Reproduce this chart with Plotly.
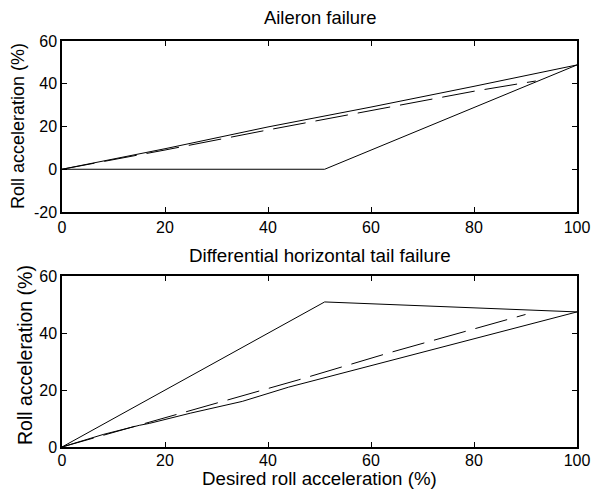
import plotly.graph_objects as go

# Top panel: Aileron failure
a_upper_x = [0, 20, 40, 60, 80, 100]
a_upper_y = [0, 9.6, 19.8, 29.1, 38.8, 48.8]
a_dash_x = [0, 20, 40, 60, 80, 92]
a_dash_y = [0, 9.0, 18.4, 27.6, 36.5, 41.3]
a_lower_x = [0, 28, 51, 100]
a_lower_y = [0, 0, 0, 48.8]

# Bottom panel: Differential horizontal tail failure
d_upper_x = [0, 51, 100]
d_upper_y = [0, 50.9, 47.4]
d_dash_x = [0, 17, 31, 40, 46, 64, 81, 90]
d_dash_y = [0, 8.8, 16.1, 20.6, 23.6, 33.3, 42.1, 46.5]
d_lower_x = [0, 8, 15, 17, 25, 35, 44, 64, 83, 100]
d_lower_y = [0, 4.4, 7.6, 8.3, 11.9, 16.0, 21.0, 30.4, 39.2, 47.4]

x_ticks = [0, 20, 40, 60, 80, 100]
x_tick_text = ["0", "20", "40", "60", "80", "100"]
top_y_ticks = [-20, 0, 20, 40, 60]
top_y_text = ["-20", "0", "20", "40", "60"]
bot_y_ticks = [0, 20, 40, 60]
bot_y_text = ["0", "20", "40", "60"]

fig = go.Figure()
solid = dict(color="black", width=1)
dashed = dict(color="black", width=1, dash="33px,10px")

fig.add_trace(go.Scatter(x=a_upper_x, y=a_upper_y, mode="lines", line=solid, xaxis="x", yaxis="y"))
fig.add_trace(go.Scatter(x=a_dash_x, y=a_dash_y, mode="lines", line=dashed, xaxis="x", yaxis="y"))
fig.add_trace(go.Scatter(x=a_lower_x, y=a_lower_y, mode="lines", line=solid, xaxis="x", yaxis="y"))
fig.add_trace(go.Scatter(x=d_upper_x, y=d_upper_y, mode="lines", line=solid, xaxis="x2", yaxis="y2"))
fig.add_trace(go.Scatter(x=d_dash_x, y=d_dash_y, mode="lines", line=dashed, xaxis="x2", yaxis="y2"))
fig.add_trace(go.Scatter(x=d_lower_x, y=d_lower_y, mode="lines", line=solid, xaxis="x2", yaxis="y2"))

W, H = 594, 489
L, R, T, B = 62, 577, 41, 447
ph = B - T

def py(px):
    return (B - px) / ph

def px_(xx):
    return (xx - L) / (R - L)

FONT = "Liberation Sans, Arial, sans-serif"
axis_common = dict(
    showline=True, linecolor="black", linewidth=1.5, mirror="ticks",
    ticks="inside", ticklen=5, tickwidth=1, tickcolor="black",
    showgrid=False, zeroline=False, automargin=False,
    tickfont=dict(family=FONT, size=16, color="black"),
)

fig.update_layout(
    width=W, height=H,
    margin=dict(l=L, r=W - R, t=T, b=H - B),
    paper_bgcolor="white", plot_bgcolor="white",
    showlegend=False,
    font=dict(family=FONT, color="black"),
    xaxis=dict(domain=[0, 1], range=[0, 100], tickvals=x_ticks, ticktext=x_tick_text,
               anchor="y", **axis_common),
    yaxis=dict(domain=[py(212), 1], range=[-20, 60], tickvals=top_y_ticks, ticktext=top_y_text,
               anchor="x", **axis_common),
    xaxis2=dict(domain=[0, 1], range=[0, 100], tickvals=x_ticks, ticktext=x_tick_text,
                anchor="y2", ticklabelstandoff=-2, **axis_common),
    yaxis2=dict(domain=[0, py(276)], range=[0, 60], tickvals=bot_y_ticks, ticktext=bot_y_text,
                anchor="x2", **axis_common),
)

def tf(size):
    return dict(family=FONT, size=size, color="black")

ann = [
    dict(text="Aileron failure", x=0.5, y=py(18), xref="paper", yref="paper",
         xanchor="center", yanchor="middle", showarrow=False, font=tf(18.4)),
    dict(text="Differential horizontal tail failure", x=0.5, y=py(255), xref="paper", yref="paper",
         xanchor="center", yanchor="middle", showarrow=False, font=tf(18.8)),
    dict(text="Desired roll acceleration (%)", x=0.5, y=py(478), xref="paper", yref="paper",
         xanchor="center", yanchor="middle", showarrow=False, font=tf(18.7)),
    dict(text="Roll acceleration (%)", x=px_(18), y=py(126), xref="paper", yref="paper",
         xanchor="center", yanchor="middle", textangle=-90, showarrow=False, font=tf(18)),
    dict(text="Roll acceleration (%)", x=px_(25), y=py(355), xref="paper", yref="paper",
         xanchor="center", yanchor="middle", textangle=-90, showarrow=False, font=tf(19.5)),
]
fig.update_layout(annotations=ann)

fig.write_html(
    "out.html",
    config={"displayModeBar": False},
    post_script="document.body.style.margin='0';document.body.style.padding='0';",
)
